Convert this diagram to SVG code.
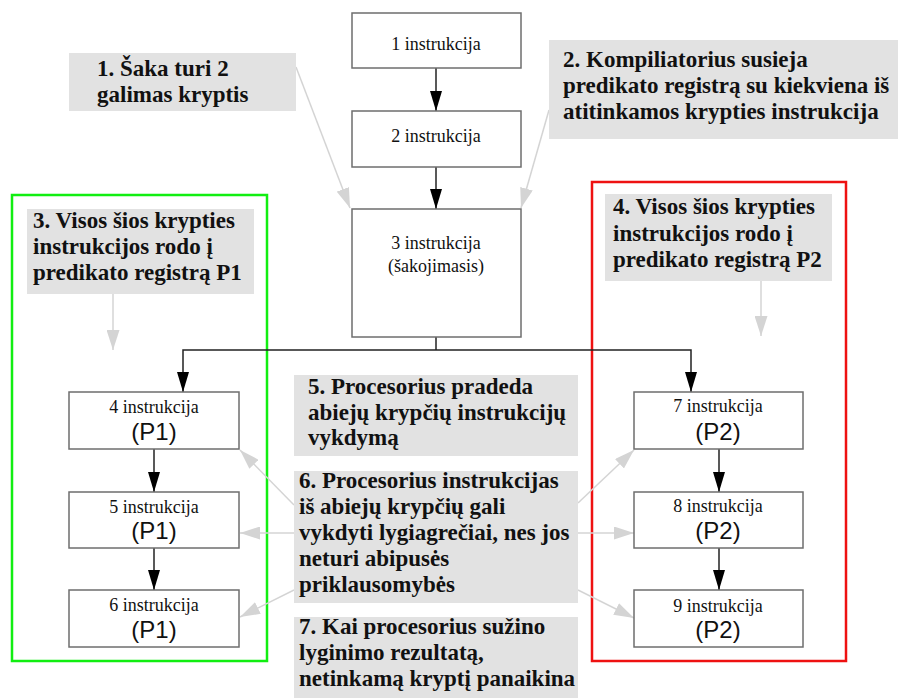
<svg xmlns="http://www.w3.org/2000/svg" width="898" height="698" viewBox="0 0 898 698">
<style>
.node rect{fill:#fff;stroke:#6e6e6e;stroke-width:1.5}
.nt{font-family:"Liberation Serif","DejaVu Serif",serif;font-size:18px;fill:#111;text-anchor:middle}
.pt{font-family:"Liberation Sans",Arial,sans-serif;font-size:24px;fill:#111;text-anchor:middle}
.lbl rect{fill:#e2e2e2}
.lt{font-family:"Liberation Serif","DejaVu Serif",serif;font-size:23px;font-weight:bold;fill:#111}
.edge{stroke:#222;stroke-width:1.5;fill:none;marker-end:url(#ab)}
.note{stroke:#d4d4d4;stroke-width:1.5;fill:none;marker-end:url(#ag)}
</style>
<defs>
<marker id="ab" markerUnits="userSpaceOnUse" markerWidth="20" markerHeight="12" refX="20" refY="6" orient="auto"><path d="M0,0 L20,6 L0,12 z" fill="#000"/></marker>
<marker id="ag" markerUnits="userSpaceOnUse" markerWidth="20" markerHeight="13" refX="20" refY="6.5" orient="auto"><path d="M0,0 L20,6.5 L0,13 z" fill="#d4d4d4"/></marker>
</defs>
<rect width="898" height="698" fill="#fff"/>
<g id="group-p1"><rect x="12" y="195" width="255" height="466" fill="none" stroke="#11ee11" stroke-width="2.5"/></g>
<g id="group-p2"><rect x="592" y="182" width="254" height="479" fill="none" stroke="#ee1111" stroke-width="2.5"/></g>
<g id="connectors">
<path class="edge" d="M436,68 V111"/>
<path class="edge" d="M436,167 V209"/>
<path d="M436,337 V350" stroke="#222" stroke-width="1.5" fill="none"/>
<path class="edge" d="M436,350 H183 V392"/>
<path class="edge" d="M436,350 H691 V392"/>
<path class="edge" d="M154,449 V492"/>
<path class="edge" d="M154,548 V590"/>
<path class="edge" d="M719,449 V492"/>
<path class="edge" d="M719,548 V590"/>
<path class="note" d="M296,67 L350,208"/>
<path class="note" d="M549,110 L521,208"/>
<path class="note" d="M113,294 V350"/>
<path class="note" d="M761,281 V336"/>
<path class="note" d="M294,505 L240,450"/>
<path class="note" d="M294,533 H240"/>
<path class="note" d="M294,590 L240,617"/>
<path class="note" d="M578,503 L634,450"/>
<path class="note" d="M578,533 H634"/>
<path class="note" d="M578,590 L634,618"/>
</g>
<g id="n1" class="node"><rect x="352" y="13" width="169" height="55"/><text class="nt" x="436" y="50">1 instrukcija</text></g>
<g id="n2" class="node"><rect x="352" y="111" width="169" height="56"/><text class="nt" x="436" y="142">2 instrukcija</text></g>
<g id="n3" class="node"><rect x="352" y="209" width="169" height="128"/><text class="nt" x="436" y="249">3 instrukcija</text><text class="nt" x="436" y="272">(šakojimasis)</text></g>
<g id="n4" class="node"><rect x="69" y="392" width="170" height="57"/><text class="nt" x="154" y="413">4 instrukcija</text><text class="pt" x="154" y="440">(P1)</text></g>
<g id="n5" class="node"><rect x="69" y="492" width="170" height="56"/><text class="nt" x="154" y="513">5 instrukcija</text><text class="pt" x="154" y="539">(P1)</text></g>
<g id="n6" class="node"><rect x="69" y="590" width="170" height="57"/><text class="nt" x="154" y="611">6 instrukcija</text><text class="pt" x="154" y="638">(P1)</text></g>
<g id="n7" class="node"><rect x="634" y="392" width="169" height="57"/><text class="nt" x="718" y="412">7 instrukcija</text><text class="pt" x="718" y="440">(P2)</text></g>
<g id="n8" class="node"><rect x="634" y="492" width="169" height="56"/><text class="nt" x="718" y="512">8 instrukcija</text><text class="pt" x="718" y="539">(P2)</text></g>
<g id="n9" class="node"><rect x="634" y="590" width="169" height="57"/><text class="nt" x="718" y="612">9 instrukcija</text><text class="pt" x="718" y="638">(P2)</text></g>
<g id="l1" class="lbl"><rect x="69" y="53" width="227" height="58"/><text class="lt" x="97" y="76">1. Šaka turi 2</text><text class="lt" x="97" y="102">galimas kryptis</text></g>
<g id="l2" class="lbl"><rect x="549" y="40" width="352" height="99"/><text class="lt" x="563" y="67">2. Kompiliatorius susieja</text><text class="lt" x="563" y="93">predikato registrą su kiekviena iš</text><text class="lt" x="563" y="119">atitinkamos krypties instrukcija</text></g>
<g id="l3" class="lbl"><rect x="27" y="209" width="227" height="85"/><text class="lt" x="33" y="228">3. Visos šios krypties</text><text class="lt" x="33" y="254">instrukcijos rodo į</text><text class="lt" x="33" y="280">predikato registrą P1</text></g>
<g id="l4" class="lbl"><rect x="605" y="194" width="227" height="87"/><text class="lt" x="613" y="214">4. Visos šios krypties</text><text class="lt" x="613" y="241">instrukcijos rodo į</text><text class="lt" x="613" y="267">predikato registrą P2</text></g>
<g id="l5" class="lbl"><rect x="294" y="375" width="284" height="81"/><text class="lt" x="308" y="394">5. Procesorius pradeda</text><text class="lt" x="308" y="420">abiejų krypčių instrukcijų</text><text class="lt" x="308" y="445">vykdymą</text></g>
<g id="l6" class="lbl"><rect x="294" y="471" width="284" height="132"/><text class="lt" x="299" y="488">6. Procesorius instrukcijas</text><text class="lt" x="299" y="514">iš abiejų krypčių gali</text><text class="lt" x="299" y="540">vykdyti lygiagrečiai, nes jos</text><text class="lt" x="299" y="566">neturi abipusės</text><text class="lt" x="299" y="592">priklausomybės</text></g>
<g id="l7" class="lbl"><rect x="294" y="617" width="284" height="81"/><text class="lt" x="299" y="634">7. Kai procesorius sužino</text><text class="lt" x="299" y="660">lyginimo rezultatą,</text><text class="lt" x="299" y="686">netinkamą kryptį panaikina</text></g>
</svg>
